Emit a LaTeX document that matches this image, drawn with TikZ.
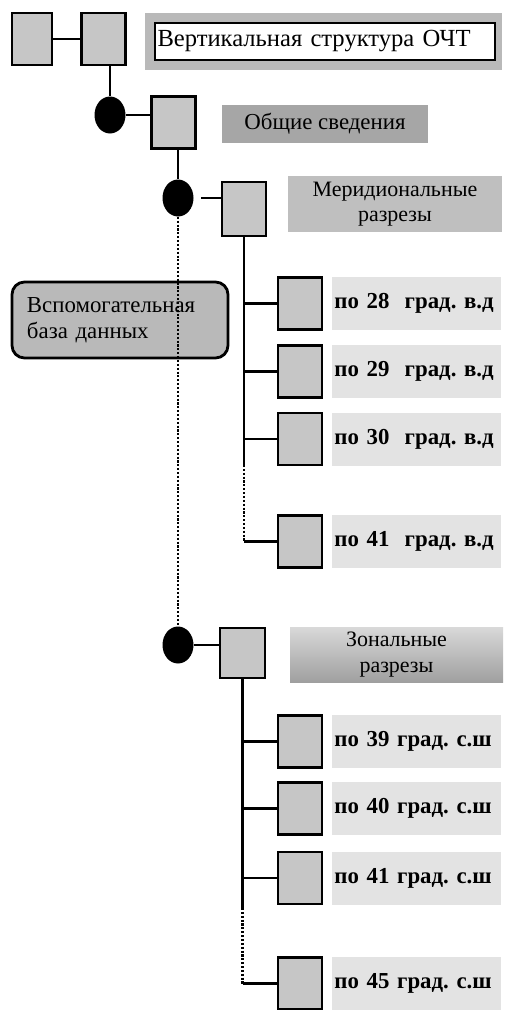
\documentclass[tikz,border=0pt]{standalone}
\usepackage{fontspec}
\setmainfont{Liberation Serif}
\usetikzlibrary{positioning,shapes.geometric}
\frenchspacing

\begin{document}
\begin{tikzpicture}[
    sq/.style={draw, line width=1.3pt, fill=gray!45, minimum width=0.88cm, minimum height=1.04cm, inner sep=0pt},
    knot/.style={ellipse, fill=black, minimum width=0.62cm, minimum height=0.74cm, inner sep=0pt},
    leaf/.style={fill=gray!22, text width=3.3cm, inner xsep=0.04cm, minimum height=1.06cm, inner ysep=0pt, align=left,
                 font=\fontsize{13}{15}\selectfont\bfseries},
    head/.style={minimum width=4.27cm, minimum height=1.1cm, inner sep=0pt, align=center, font=\fontsize{12.5}{14.5}\selectfont},
    link/.style={line width=1.2pt},
    gap/.style={line width=1.2pt, densely dotted}
]

\useasboundingbox (0,0) rectangle (10.1,-20.2);

% Title row
\node[sq, minimum width=0.8cm] (A) at (0.64,-0.78) {};
\node[sq] (B) at (2.07,-0.78) {};
\node[fill=gray!55, minimum width=7.14cm, minimum height=1.14cm] (band) at (6.47,-0.83) {};
\node[draw, line width=1.3pt, fill=white, text width=6.7cm, inner xsep=0.05cm, minimum height=0.74cm, align=left,
      font=\fontsize{14}{16}\selectfont] (title) at (6.5,-0.83) {Вертикальная структура ОЧТ};
\draw[link] (A) -- (B);

% General information
\node[knot] (c1) at (2.2,-2.3) {};
\node[sq] (C) at (3.47,-2.45) {};
\node[fill=gray!70, minimum width=4.12cm, minimum height=0.76cm, font=\fontsize{13}{15}\selectfont] (gen) at (6.5,-2.48) {Общие сведения};
\draw[link] (B.south -| c1) -- (c1.north);
\draw[link] (c1.east) -- (c1.east -| C.west);

% Meridional sections
\node[knot] (c2) at (3.56,-3.96) {};
\node[sq, minimum height=1.08cm] (D) at (4.88,-4.18) {};
\node[head, fill=gray!50, minimum width=4.28cm, minimum height=1.12cm] (mer) at (7.9,-4.08) {Меридиональные\\разрезы};
\draw[link] (C.south -| c2) -- (c2.north);
\draw[link, shorten <=0.15cm] (c2.east) -- (c2.east -| D.west);

\node[sq] (M28) at (6.0,-6.07) {};
\node[sq] (M29) at (6.0,-7.43) {};
\node[sq] (M30) at (6.0,-8.78) {};
\node[sq] (M41) at (6.0,-10.83) {};
\node[leaf, right=0.18cm of M28] (tM28) {по 28\ \ град. в.д};
\node[leaf, right=0.18cm of M29] (tM29) {по 29\ \ град. в.д};
\node[leaf, right=0.18cm of M30] (tM30) {по 30\ \ град. в.д};
\node[leaf, right=0.18cm of M41] (tM41) {по 41\ \ град. в.д};

\coordinate (Dcut) at (D.south |- 0,-9.3);
\draw[link] (D.south) -- (Dcut);
\draw[gap] (Dcut) -- (D.south |- M41);
\draw[link] (D.south |- M28) -- (M28.west);
\draw[link] (D.south |- M29) -- (M29.west);
\draw[link] (D.south |- M30) -- (M30.west);
\draw[link] (D.south |- M41) -- (M41.west);

% Auxiliary database
\node[draw, line width=1.6pt, rounded corners=0.25cm, fill=gray!55, text width=3.72cm, inner xsep=0.3cm,
      minimum height=1.52cm, align=left, font=\fontsize{13}{15}\selectfont] (aux) at (2.4,-6.4) {Вспомогательная\\база данных};

% Zonal sections
\node[knot] (c3) at (3.56,-12.9) {};
\node[sq, minimum width=0.9cm, minimum height=1.0cm] (E) at (4.85,-13.06) {};
\node[head, top color=gray!30, bottom color=gray!75, minimum width=4.26cm] (zon) at (7.93,-13.09) {Зональные\\разрезы};
\draw[gap] (c2.south) -- (c3.north);
\draw[link] (c3.east) -- (c3.east -| E.west);

\node[sq] (Z39) at (6.0,-14.83) {};
\node[sq] (Z40) at (6.0,-16.17) {};
\node[sq] (Z41) at (6.0,-17.56) {};
\node[sq] (Z45) at (6.0,-19.67) {};
\node[leaf, right=0.18cm of Z39] (tZ39) {по 39 град. с.ш};
\node[leaf, right=0.18cm of Z40] (tZ40) {по 40 град. с.ш};
\node[leaf, right=0.18cm of Z41] (tZ41) {по 41 град. с.ш};
\node[leaf, right=0.18cm of Z45] (tZ45) {по 45 град. с.ш};

\coordinate (Ecut) at (E.south |- 0,-18.16);
\draw[link] (E.south) -- (Ecut);
\draw[gap] (Ecut) -- (E.south |- Z45);
\draw[link] (E.south |- Z39) -- (Z39.west);
\draw[link] (E.south |- Z40) -- (Z40.west);
\draw[link] (E.south |- Z41) -- (Z41.west);
\draw[link] (E.south |- Z45) -- (Z45.west);

\end{tikzpicture}
\end{document}
